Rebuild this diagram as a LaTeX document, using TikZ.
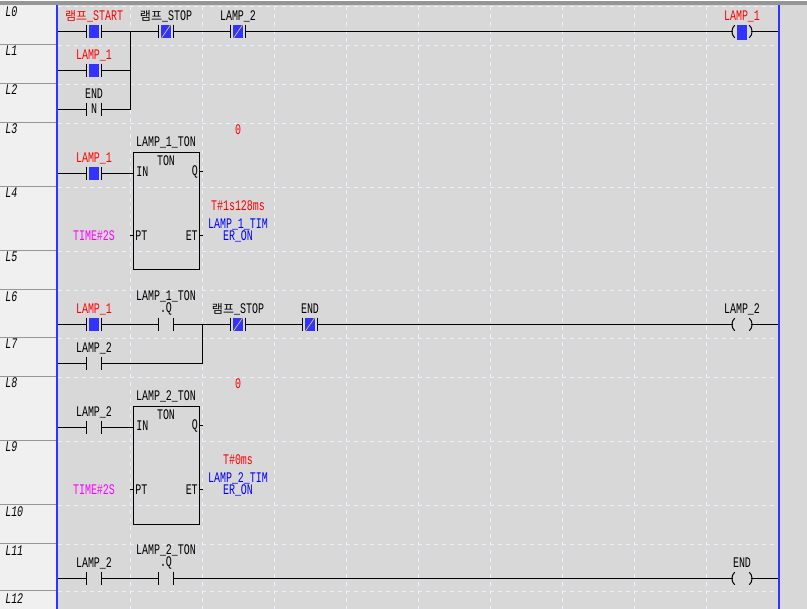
\documentclass[tikz,border=0pt]{standalone}
\usepackage{fontspec}
\setmainfont[FakeStretch=0.68]{Liberation Mono}
\newfontfamily\krfont{Noto Sans CJK KR}
\usetikzlibrary{positioning,calc}
\definecolor{panelgray}{RGB}{216,216,216}
\definecolor{rowgray}{RGB}{240,240,240}
\definecolor{linegray}{RGB}{150,150,150}
\definecolor{gridwhite}{RGB}{236,236,250}
\definecolor{railblue}{RGB}{51,51,255}
\definecolor{lblredc}{RGB}{255,0,0}
\definecolor{lblbluec}{RGB}{0,0,255}
\definecolor{lblpinkc}{RGB}{255,0,255}
\definecolor{slashyellow}{RGB}{220,210,40}
\newcommand{\kr}{{\krfont\fontsize{9pt}{9pt}\selectfont 램프}}
\tikzset{
	lbl/.style={inner sep=0pt,font=\fontsize{11pt}{9pt}\selectfont,align=center},
	lblred/.style={lbl,text=lblredc},
	lblblue/.style={lbl,text=lblbluec},
	lblpink/.style={lbl,text=lblpinkc},
	rowlbl/.style={inner sep=0pt,anchor=base west,font=\fontsize{11pt}{9pt}\selectfont\itshape},
	wire/.style={draw=black,line width=0.75pt},
	contact/.style={inner sep=0pt,minimum width=10.5pt,minimum height=10pt,
		append after command={
			(\tikzlastnode.north west) edge[wire] (\tikzlastnode.south west)
			(\tikzlastnode.north east) edge[wire] (\tikzlastnode.south east)}},
	energized/.style={contact,path picture={
		\fill[railblue] ([xshift=-3.4pt]path picture bounding box.south) rectangle ([xshift=3.4pt]path picture bounding box.north);}},
	closedon/.style={energized,path picture={
		\fill[railblue] ([xshift=-3.4pt]path picture bounding box.south) rectangle ([xshift=3.4pt]path picture bounding box.north);
		\draw[slashyellow,line width=0.5pt] ([xshift=-3.4pt]path picture bounding box.south) -- ([xshift=3.4pt]path picture bounding box.north);}},
	coil/.style={inner sep=0pt,minimum width=13.5pt,minimum height=9pt,
		append after command={
			([xshift=1.5pt]\tikzlastnode.north west) edge[wire,bend right=50] ([xshift=1.5pt]\tikzlastnode.south west)
			([xshift=-1.5pt]\tikzlastnode.north east) edge[wire,bend left=50] ([xshift=-1.5pt]\tikzlastnode.south east)}},
	tonbox/.style={draw=black,line width=0.75pt,inner sep=0pt,minimum width=49.5pt,minimum height=87.75pt}
}
\begin{document}
\begin{tikzpicture}[x=0.75pt,y=-0.75pt]
	\useasboundingbox (0,0) rectangle (807,609);
	% draw background
	\fill[panelgray] (0,0) rectangle (807,609);
	\fill[rowgray] (0,5) rectangle (56,609);
	\fill[white] (0,0) rectangle (807,1);
	\fill[linegray] (0,1) rectangle (807,5);
	% draw grid
	\foreach \x in {130,202,...,706}
	\draw[gridwhite,dashed,line width=0.75pt] (\x.5,6) -- (\x.5,609);
	\foreach \y in {6,45,84,123,187,251,290,338,377,441,505,544,591}
	\draw[gridwhite,dashed,line width=0.75pt] (58,\y.5) -- (778,\y.5);
	% draw row labels
	\foreach \y in {44,83,122,186,250,289,337,376,440,504,543,590}
	\draw[linegray,line width=0.75pt] (0,\y.5) -- (56,\y.5);
	\foreach \y [count=\i from 0] in {17,56,95,134,198,262,302,349,388,452,516,555,603}
	\node[rowlbl] (row\i) at (5,\y) {L\i};
	% draw rails
	\fill[railblue] (56,5) rectangle (58,609);
	\fill[railblue] (778,5) rectangle (780,609);
	\coordinate (railA) at (58,31.5);
	\coordinate (railB) at (58,70.5);
	\coordinate (railC) at (58,109.5);
	\coordinate (railD) at (58,173.5);
	\coordinate (railE) at (58,324.5);
	\coordinate (railF) at (58,363.5);
	\coordinate (railG) at (58,427.5);
	\coordinate (railH) at (58,578.5);
	\coordinate (endA) at (778,31.5);
	\coordinate (endE) at (778,324.5);
	\coordinate (endH) at (778,578.5);
	\coordinate (joinA) at (130.5,31.5);
	\coordinate (joinB) at (130.5,70.5);
	\coordinate (joinC) at (130.5,109.5);
	\coordinate (joinE) at (202.5,324.5);
	\coordinate (joinF) at (202.5,363.5);
	% draw network 1
	\node[energized] (startc) at (94,31.5) {};
	\node[closedon] (stopc) at (166,31.5) {};
	\node[closedon] (lamptwoc) at (238,31.5) {};
	\node[coil] (lampcoil) at (742,31.5) {};
	\fill[railblue] (737,25) rectangle (747,40);
	\node[energized] (holdc) at (94,70.5) {};
	\node[contact] (endn) at (94,109.5) {};
	\node[lbl] (endnn) at (94,108.5) {N};
	\node[lblred] (startl) at (94,16) {\kr\_START};
	\node[lbl] (stopl) at (166,16) {\kr\_STOP};
	\node[lbl] (lamptwol) at (238,16) {LAMP\_2};
	\node[lblred] (lampcoill) at (742,16) {LAMP\_1};
	\node[lblred] (holdl) at (94,55) {LAMP\_1};
	\node[lbl] (endl) at (94,94) {END};
	\draw[wire] (railA) -- (startc) (startc) -- (stopc) (stopc) -- (lamptwoc) (lamptwoc) -- (lampcoil) (lampcoil) -- (endA);
	\draw[wire] (railB) -- (holdc) (holdc) -- (joinB);
	\draw[wire] (railC) -- (endn) (endn) -- (joinC) -- (joinA);
	% draw timer 1
	\node[tonbox] (tonA) at (166.5,211.5) {};
	\node[lbl] (tonAl) at (166,142) {LAMP\_1\_TON};
	\node[lbl] (tonAt) at (166,161) {TON};
	\node[lbl,anchor=west] (tonAin) at (136,172) {IN};
	\node[lbl,anchor=east] (tonAq) at (198,172) {Q};
	\node[lbl,anchor=west] (tonApt) at (135,236) {PT};
	\node[lbl,anchor=east] (tonAet) at (198,236) {ET};
	\node[energized] (onec) at (94,173.5) {};
	\node[lblred] (onel) at (94,158) {LAMP\_1};
	\node[lblpink] (timeA) at (94,236) {TIME\#2S};
	\node[lblred] (zeroA) at (238,130) {0};
	\node[lblred] (elapsedA) at (238,206) {T\#1s128ms};
	\node[lblblue] (timerA) at (238,230) {LAMP\_1\_TIM\\ER\_ON};
	\draw[wire] (railD) -- (onec) (onec) -- (tonA.west |- onec);
	\draw[wire] (tonA.east |- tonAq) -- ++(3,0) coordinate (stubAq);
	\draw[wire] (tonA.east |- tonAet) -- ++(3,0) coordinate (stubAet);
	\draw[wire] (tonA.west |- tonApt) -- ++(-3,0) coordinate (stubApt);
	% draw network 2
	\node[energized] (selfc) at (94,324.5) {};
	\node[contact] (tonAc) at (166,324.5) {};
	\node[closedon] (stoptwoc) at (238,324.5) {};
	\node[closedon] (endc) at (310,324.5) {};
	\node[coil] (lamptwocoil) at (742,324.5) {};
	\node[contact] (twohold) at (94,363.5) {};
	\node[lblred] (selfl) at (94,309) {LAMP\_1};
	\node[lbl] (tonAcl) at (166,303) {LAMP\_1\_TON\\.Q};
	\node[lbl] (stoptwol) at (238,309) {\kr\_STOP};
	\node[lbl] (endcl) at (310,309) {END};
	\node[lbl] (lamptwocoill) at (742,309) {LAMP\_2};
	\node[lbl] (twoholdl) at (94,348) {LAMP\_2};
	\draw[wire] (railE) -- (selfc) (selfc) -- (tonAc) (tonAc) -- (stoptwoc) (stoptwoc) -- (endc) (endc) -- (lamptwocoil) (lamptwocoil) -- (endE);
	\draw[wire] (railF) -- (twohold) (twohold) -- (joinF) -- (joinE);
	% draw timer 2
	\node[tonbox] (tonB) at (166.5,465.5) {};
	\node[lbl] (tonBl) at (166,396) {LAMP\_2\_TON};
	\node[lbl] (tonBt) at (166,415) {TON};
	\node[lbl,anchor=west] (tonBin) at (136,426) {IN};
	\node[lbl,anchor=east] (tonBq) at (198,426) {Q};
	\node[lbl,anchor=west] (tonBpt) at (135,490) {PT};
	\node[lbl,anchor=east] (tonBet) at (198,490) {ET};
	\node[contact] (twoc) at (94,427.5) {};
	\node[lbl] (twol) at (94,412) {LAMP\_2};
	\node[lblpink] (timeB) at (94,490) {TIME\#2S};
	\node[lblred] (zeroB) at (238,384) {0};
	\node[lblred] (elapsedB) at (238,460) {T\#0ms};
	\node[lblblue] (timerB) at (238,484) {LAMP\_2\_TIM\\ER\_ON};
	\draw[wire] (railG) -- (twoc) (twoc) -- (tonB.west |- twoc);
	\draw[wire] (tonB.east |- tonBq) -- ++(3,0) coordinate (stubBq);
	\draw[wire] (tonB.east |- tonBet) -- ++(3,0) coordinate (stubBet);
	\draw[wire] (tonB.west |- tonBpt) -- ++(-3,0) coordinate (stubBpt);
	% draw network 3
	\node[contact] (lastc) at (94,578.5) {};
	\node[contact] (tonBc) at (166,578.5) {};
	\node[coil] (endcoil) at (742,578.5) {};
	\node[lbl] (lastl) at (94,563) {LAMP\_2};
	\node[lbl] (tonBcl) at (166,557) {LAMP\_2\_TON\\.Q};
	\node[lbl] (endcoill) at (742,563) {END};
	\draw[wire] (railH) -- (lastc) (lastc) -- (tonBc) (tonBc) -- (endcoil) (endcoil) -- (endH);
\end{tikzpicture}
\end{document}
